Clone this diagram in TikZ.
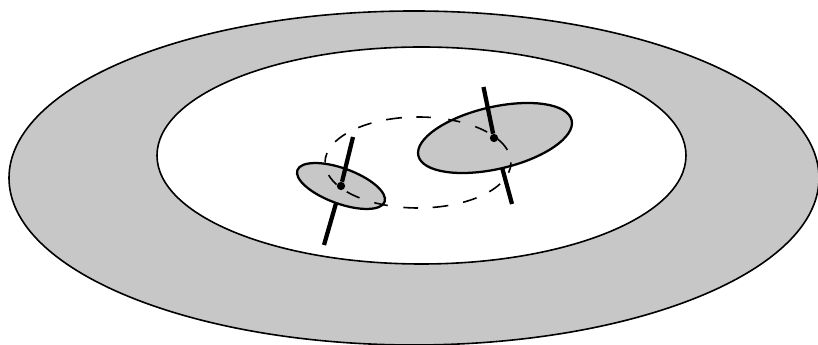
\documentclass[tikz,border=0pt]{standalone}
\usepackage{xcolor}
\usetikzlibrary{shapes.geometric,positioning}
\definecolor{discgray}{gray}{0.78}
\tikzset{
  ring/.style    = {ellipse, draw=black, line width=1.2pt, inner sep=0pt},
  disc/.style    = {ellipse, draw=black, fill=discgray, line width=1.7pt, inner sep=0pt},
  orbit/.style   = {black, line width=1.2pt},
  spin/.style    = {line width=3.2pt, black},
  hub/.style     = {circle, fill=black, inner sep=0pt, minimum size=6.2pt},
}
\begin{document}
\begin{tikzpicture}[x=0.75pt,y=0.75pt]
  \useasboundingbox (0,0) rectangle (818,345);
  \node[ring, fill=discgray, minimum width=607.5pt, minimum height=250.5pt] (outer) at (414,167) {};
  \node[ring, fill=white, minimum width=396.75pt, minimum height=162.75pt] (inner) at (421.5,189.5) {};
  % lower ends of the axes go behind the discs
  \coordinate (bigtop) at (483.5,258);
  \coordinate (bigend) at (512,141);
  \coordinate (bigc) at (494,207);
  \coordinate (smalltop) at (353,208);
  \coordinate (smallend) at (324,100);
  \coordinate (smallc) at (341,159);
  \draw[spin] (bigc) -- (bigend);
  \draw[spin] (smallc) -- (smallend);
  \node[disc, rotate=13, minimum width=118pt, minimum height=46.5pt] (bigdisc) at (495,207) {};
  \node[disc, rotate=-20, minimum width=69.6pt, minimum height=26.5pt] (smalldisc) at (341,159) {};
  % dashes of the tilted circle, start/end angle
  \coordinate (orbitc) at (418,182.5);
  \foreach \sa/\ea in {0/-13,-28/-40,-51/-61,-71/-81,-90/-99,-109/-118,-129/-140,-151/-164,
                       -180/-192,-207/-219,-230/-240,-250/-260,-269/-278,-289/-297,-308/-318,-328/-344}
    \draw[orbit] ([shift={(\sa:93 and 45.5)}]orbitc) arc[start angle=\sa, end angle=\ea, x radius=93, y radius=45.5];
  \node[hub] (bighub) at (bigc) {};
  \node[hub] (smallhub) at (smallc) {};
  \draw[spin] (bigtop) -- (bighub);
  \draw[spin] (smalltop) -- (smallhub);
\end{tikzpicture}
\end{document}
